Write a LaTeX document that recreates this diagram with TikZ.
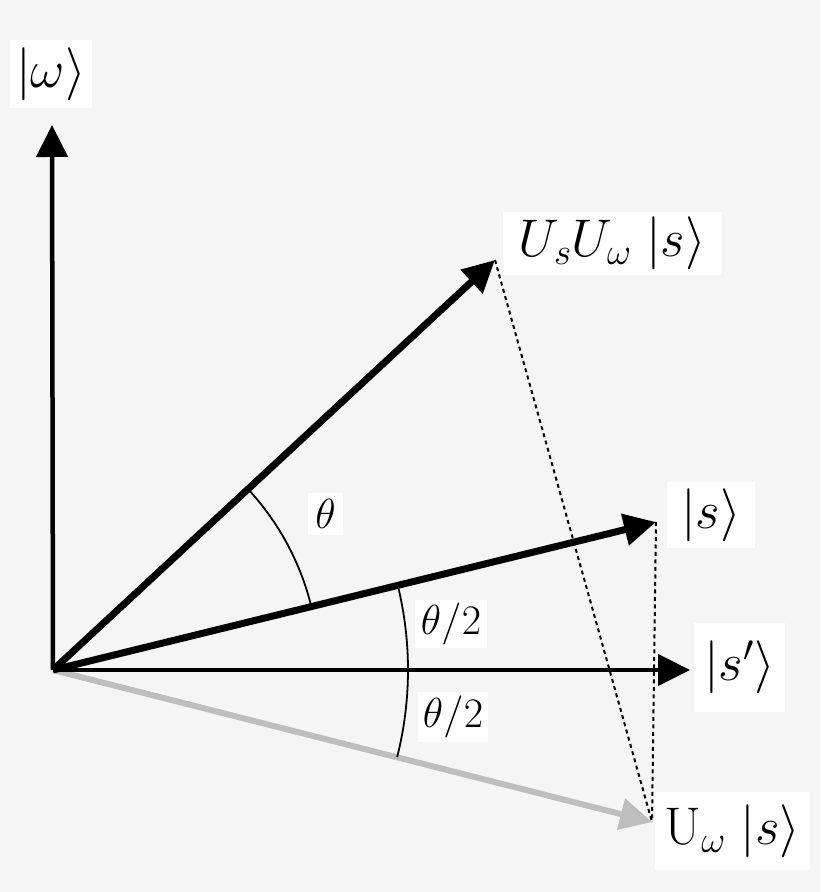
\RequirePackage{fix-cm}
\documentclass[tikz,border=0pt]{standalone}
\usetikzlibrary{arrows.meta}
\definecolor{bg}{RGB}{245,245,245}
\definecolor{lightgray}{RGB}{190,190,190}
\tikzset{
  vec/.style={line width=#1, -{Triangle[length=32pt,width=31pt]}},
  guide/.style={line width=2pt, dash pattern=on 4pt off 3.5pt},
  anglearc/.style={line width=1.8pt},
  lbl/.style={fill=white, inner sep=0pt, font=\fontsize{53}{60}\selectfont},
  albl/.style={fill=white, inner sep=0pt, font=\fontsize{42}{48}\selectfont},
}
\begin{document}
\begin{tikzpicture}[x=1pt,y=1pt]
\fill[bg] (0,0) rectangle (820,892);
\useasboundingbox (0,0) rectangle (820,892);
\coordinate (O) at (53,222);
\coordinate (w) at (52,767);
\coordinate (usw) at (495,632);
\coordinate (s) at (656,370);
\coordinate (sp) at (690,222);
\coordinate (uws) at (652,70);
% dotted guides
\draw[guide] (s) -- (uws);
\draw[guide] (usw) -- (uws);
% vectors
\draw[vec=6pt, lightgray] (O) -- (uws);
\draw[vec=4.5pt] (O) -- (w);
\draw[vec=4.5pt] (O) -- (sp);
\draw[vec=7pt] (O) -- (s);
\draw[vec=7pt] (O) -- (usw);
% angle arcs
\draw[anglearc] (O) ++(13.8:266) arc[start angle=13.8, end angle=42.85, radius=266pt];
\draw[anglearc] (O) ++(-14.2:355) arc[start angle=-14.2, end angle=13.8, radius=355pt];
% labels
\node[lbl, minimum width=82pt, minimum height=68pt] (lw) at (51,818) {$|\omega\rangle$};
\node[lbl, minimum width=219pt, minimum height=63pt] (lusw) at (612.5,648.5) {$U_sU_\omega\;|s\rangle$};
\node[lbl, minimum width=88pt, minimum height=66pt] (ls) at (711,377) {$|s\rangle$};
\node[lbl, minimum width=91pt, minimum height=89pt] (lsp) at (739.5,224.5) {$|s'\rangle$};
\node[lbl, minimum width=155pt, minimum height=78pt] (luws) at (732.5,61) {$\mathrm{U}_\omega\;|s\rangle$};
\node[albl, minimum width=35pt, minimum height=42pt] (lt) at (325.5,378) {$\theta$};
\node[albl, minimum width=72pt, minimum height=48pt] (lt1) at (451,268) {$\theta/2$};
\node[albl, minimum width=70pt, minimum height=50pt] (lt2) at (453,175) {$\theta/2$};
\end{tikzpicture}
\end{document}
